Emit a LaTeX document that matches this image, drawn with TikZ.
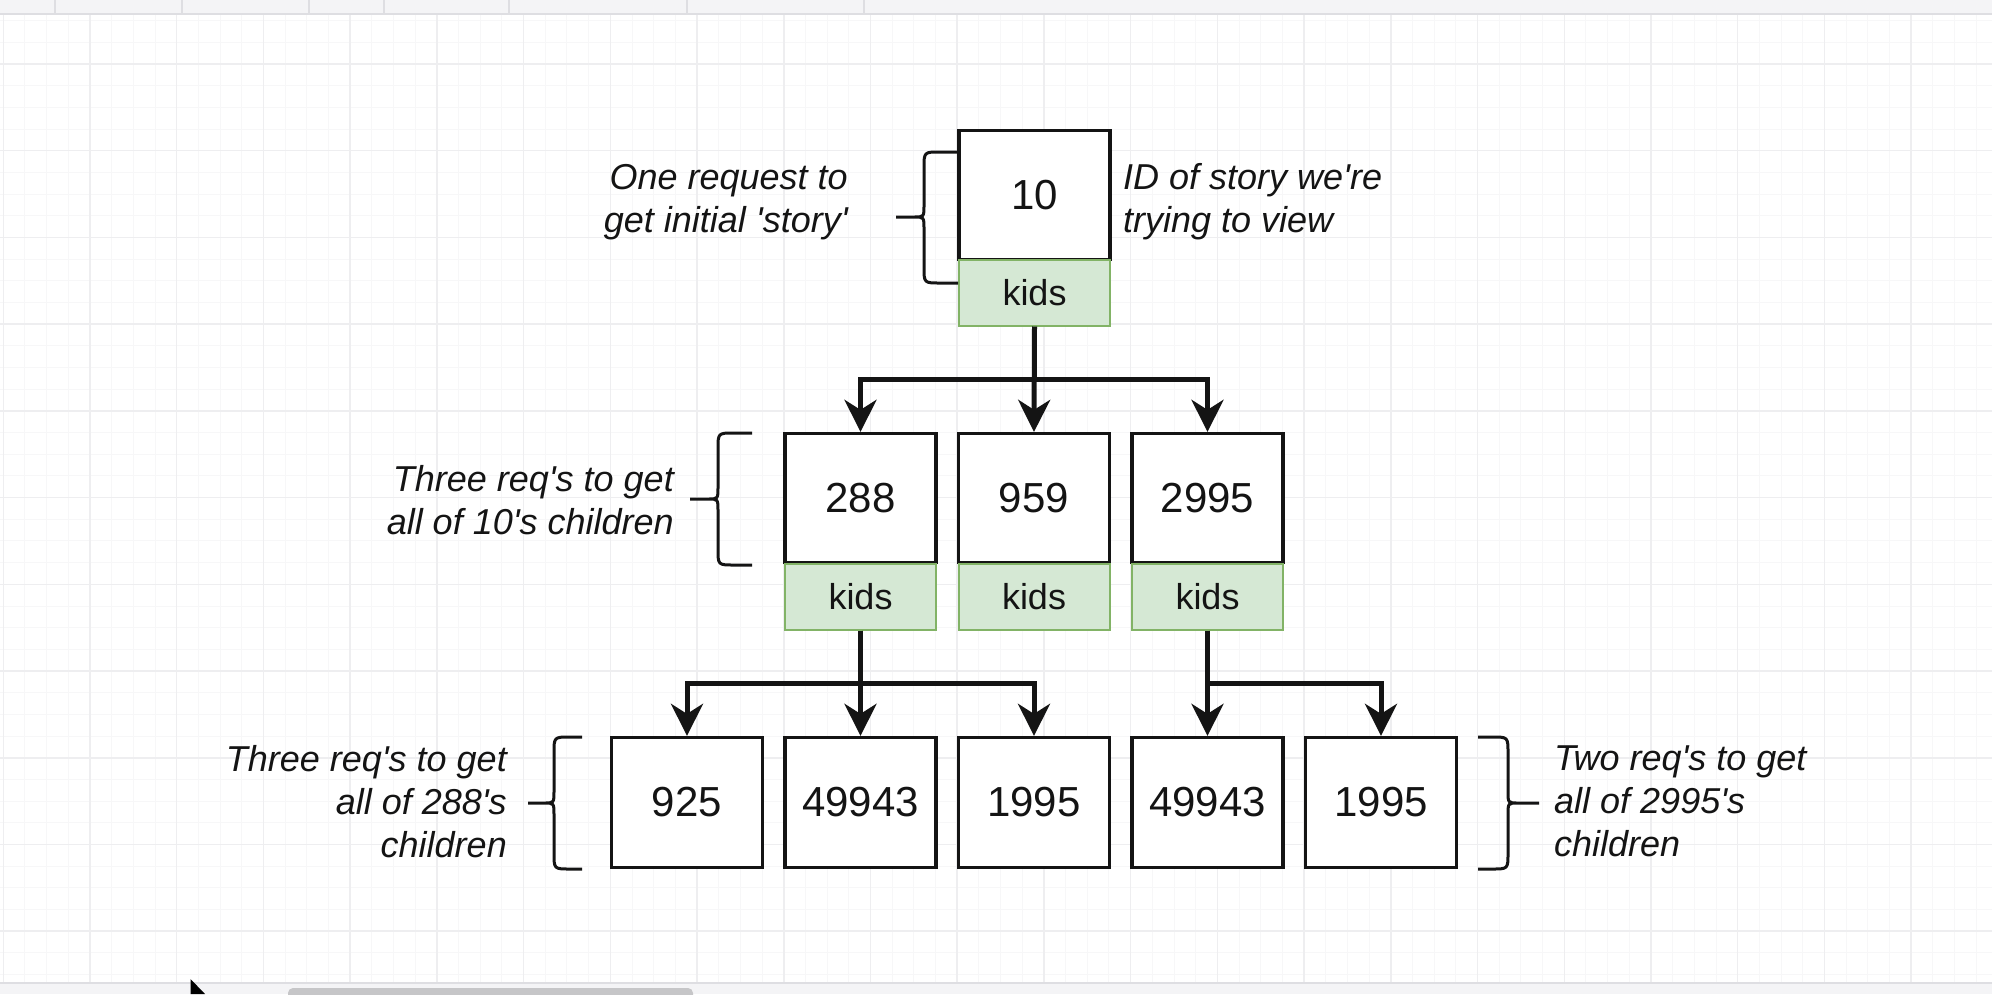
\documentclass[tikz,border=0pt]{standalone}
\usepackage{fontspec}
\setmainfont{Liberation Sans}
\usetikzlibrary{arrows.meta,calc}
\definecolor{gmin}{RGB}{247,247,248}
\definecolor{gmaj}{RGB}{238,238,240}
\definecolor{kfill}{RGB}{213,232,212}
\definecolor{kline}{RGB}{130,179,102}
\definecolor{ink}{RGB}{20,20,20}
\definecolor{barbg}{RGB}{244,244,246}
\definecolor{barline}{RGB}{222,222,226}
\definecolor{thumb}{RGB}{198,198,200}
\begin{document}
\begin{tikzpicture}[x=1pt,y=-1pt,
  nbox/.style={draw=ink, fill=white, line width=3.3pt, minimum width=151pt, minimum height=129pt, inner sep=0pt, text=ink, font=\fontsize{42}{50}\selectfont},
  leaf/.style={nbox, minimum height=130pt},
  kbox/.style={draw=kline, fill=kfill, line width=2pt, minimum width=151pt, minimum height=66pt, inner sep=0pt, text=ink, font=\fontsize{36}{43}\selectfont},
  note/.style={inner sep=0pt, text=ink, font=\fontsize{36}{43}\selectfont\itshape},
  arr/.style={draw=ink, line width=5pt, -{Stealth[length=32pt,width=32pt,inset=10pt]}},
  curly/.style={draw=ink, line width=3pt},
  gridminor/.style={draw=gmin, line width=1pt},
  gridmajor/.style={draw=gmaj, line width=1.5pt},
]
\useasboundingbox (0,0) rectangle (1992,994);
\clip (0,0) rectangle (1992,994);
\fill[white] (0,0) rectangle (1992,994);
% grid
\foreach \k in {0,...,91} \draw[gridminor] ({3.3+21.68*\k},14) -- ({3.3+21.68*\k},983);
\foreach \k in {2,...,46} \draw[gridminor] (0,{-22.7+21.68*\k}) -- (1992,{-22.7+21.68*\k});
\foreach \k in {0,4,...,88} \draw[gridmajor] ({3.3+21.68*\k},14) -- ({3.3+21.68*\k},983);
\foreach \k in {4,8,...,44} \draw[gridmajor] (0,{-22.7+21.68*\k}) -- (1992,{-22.7+21.68*\k});
% top bar
\fill[barbg] (0,0) rectangle (1992,14);
\draw[barline, line width=2pt] (0,14) -- (1992,14);
\foreach \x in {55,182,309,384,509,687,864} \draw[barline, line width=1.5pt] (\x,0) -- (\x,14);
% bottom bar
\fill[barbg] (0,983) rectangle (1992,994);
\draw[barline, line width=1.5pt] (0,983) -- (1992,983);
\fill[thumb, rounded corners=5pt] (288,988) rectangle (693,1004);
\fill[black] (190.5,979) -- (190.5,994) -- (205,994) -- cycle;

% level 0
\node[nbox] (n10) at (1034.5,195) {10};
\node[kbox] (k10) at (1034.5,292.5) {kids};
% level 1
\node[nbox] (n288) at (860.5,498) {288};
\node[kbox] (k288) at (860.5,596.5) {kids};
\node[nbox] (n959) at (1034,498) {959};
\node[kbox] (k959) at (1034,596.5) {kids};
\node[nbox] (n2995) at (1207.5,498) {2995};
\node[kbox] (k2995) at (1207.5,596.5) {kids};
% level 2
\node[leaf] (a925) at (687,802.5) {925};
\node[leaf] (a49943) at (860.5,802.5) {49943};
\node[leaf] (a1995) at (1034,802.5) {1995};
\node[leaf] (b49943) at (1207.5,802.5) {49943};
\node[leaf] (b1995) at (1381,802.5) {1995};

% connectors
\draw[arr] (k10.south) -- ($(k10.south)!.5!(k10.south |- n288.north)$) -| (n288.north);
\draw[arr] (k10.south) -- (n959.north);
\draw[arr] (k10.south) -- ($(k10.south)!.5!(k10.south |- n2995.north)$) -| (n2995.north);
\draw[arr] (k288.south) -- ($(k288.south)!.5!(k288.south |- a925.north)$) -| (a925.north);
\draw[arr] (k288.south) -- (a49943.north);
\draw[arr] (k288.south) -- ($(k288.south)!.5!(k288.south |- a1995.north)$) -| (a1995.north);
\draw[arr] (k2995.south) -- (b49943.north);
\draw[arr] (k2995.south) -- ($(k2995.south)!.5!(k2995.south |- b1995.north)$) -| (b1995.north);

% braces
\draw[curly] (958,152) -- (940,152) .. controls (924,152) .. (924,168) -- (924,205) .. controls (924,217) .. (914,217) -- (896,217)
  (914,217) .. controls (924,217) .. (924,229) -- (924,267) .. controls (924,283) .. (940,283) -- (958,283);
\draw[curly] (752,433) -- (734,433) .. controls (718,433) .. (718,449) -- (718,487) .. controls (718,499) .. (708,499) -- (690,499)
  (708,499) .. controls (718,499) .. (718,511) -- (718,549) .. controls (718,565) .. (734,565) -- (752,565);
\draw[curly] (582,737) -- (570,737) .. controls (554,737) .. (554,753) -- (554,791) .. controls (554,803) .. (544,803) -- (528,803)
  (544,803) .. controls (554,803) .. (554,815) -- (554,853) .. controls (554,869) .. (570,869) -- (582,869);
\draw[curly] (1478,737) -- (1492,737) .. controls (1508,737) .. (1508,753) -- (1508,791) .. controls (1508,803) .. (1518,803) -- (1539,803)
  (1518,803) .. controls (1508,803) .. (1508,815) -- (1508,853) .. controls (1508,869) .. (1492,869) -- (1478,869);

% notes
\node[note, align=right, anchor=east] (t1) at (848,202) {One request to\\get initial \textquotesingle story\textquotesingle};
\node[note, align=left, anchor=west] (t2) at (1123,202) {ID of story we\textquotesingle re\\trying to view};
\node[note, align=right, anchor=east] (t3) at (674,500) {Three req\textquotesingle s to get\\all of 10\textquotesingle s children};
\node[note, align=right, anchor=east] (t4) at (507,801.5) {Three req\textquotesingle s to get\\all of 288\textquotesingle s\\children};
\node[note, align=left, anchor=west] (t5) at (1554,801.5) {Two req\textquotesingle s to get\\all of 2995\textquotesingle s\\children};
\end{tikzpicture}
\end{document}
